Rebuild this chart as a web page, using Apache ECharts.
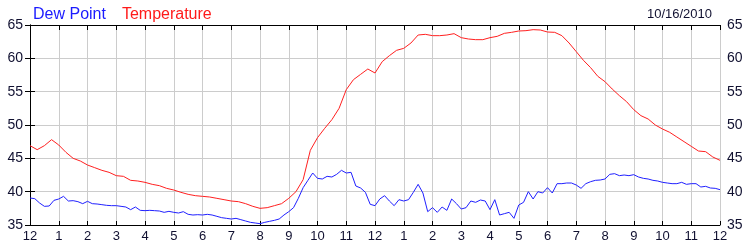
<!DOCTYPE html>
<html>
<head>
<meta charset="utf-8">
<script src="https://cdn.jsdelivr.net/npm/echarts@6/dist/echarts.min.js"></script>
<style>html,body{margin:0;padding:0;background:#fff}#c{width:750px;height:250px}</style>
</head>
<body>
<div id="c"></div>
<script>
// x axis tick labels (hours 0..24)
const hourLabels = ['12','1','2','3','4','5','6','7','8','9','10','11','12','1','2','3','4','5','6','7','8','9','10','11','12'];
const yTicks = [35, 40, 45, 50, 55, 60, 65];
// Temperature, one reading every 15 minutes from midnight
const tempStepMin = 15;
const temperature = [
 46.9,46.3,46.9,47.8,47.0,45.9,45.0,44.6,44.0,43.6,43.2,42.9,
 42.4,42.3,41.7,41.6,41.4,41.1,40.9,40.5,40.25,39.9,39.6,39.4,
 39.3,39.2,39.0,38.8,38.6,38.5,38.2,37.8,37.5,37.6,37.9,38.2,
 39.0,40.0,41.8,46.2,48.1,49.5,50.8,52.5,55.3,56.8,57.6,58.4,
 57.8,59.5,60.4,61.2,61.5,62.3,63.5,63.6,63.4,63.4,63.5,63.7,
 63.1,62.9,62.8,62.8,63.1,63.3,63.75,63.9,64.1,64.15,64.3,64.25,
 63.95,63.9,63.4,62.3,61.0,59.7,58.6,57.3,56.5,55.4,54.4,53.5,
 52.3,51.4,50.9,50.0,49.4,48.9,48.2,47.5,46.8,46.1,46.0,45.2,
 44.7
];
// Dew point, one reading every 10 minutes from midnight
const dewStepMin = 10;
const dewPoint = [
 39.05,38.95,38.3,37.8,37.85,38.7,
 38.9,39.3,38.6,38.65,38.5,38.2,
 38.55,38.2,38.15,38.05,37.95,37.9,
 37.9,37.8,37.7,37.3,37.7,37.2,
 37.15,37.2,37.15,37.1,36.9,37.05,
 36.9,36.8,37.0,36.6,36.5,36.55,
 36.5,36.6,36.5,36.3,36.1,36.0,
 35.9,36.0,35.8,35.6,35.4,35.3,
 35.2,35.4,35.55,35.7,35.9,36.5,
 37.0,37.6,39.0,40.6,41.7,42.8,
 42.0,41.9,42.3,42.2,42.6,43.2,
 42.8,42.9,40.85,40.55,39.9,38.1,
 37.9,38.9,39.4,38.6,37.9,38.8,
 38.6,38.8,39.9,41.1,39.8,37.0,
 37.6,36.9,37.7,37.2,38.9,38.2,
 37.4,37.6,38.6,38.4,38.75,38.6,
 37.3,38.8,36.5,36.7,36.9,36.0,
 38.0,38.4,40.0,38.9,40.0,39.8,
 40.6,39.8,41.2,41.2,41.3,41.3,
 41.0,40.5,41.2,41.5,41.7,41.75,
 41.9,42.6,42.7,42.4,42.5,42.4,
 42.55,42.2,42.0,41.9,41.7,41.6,
 41.4,41.3,41.2,41.2,41.4,41.1,
 41.2,41.2,40.7,40.8,40.55,40.5,
 40.3
];
const titleDew = 'Dew Point';
const titleTemp = 'Temperature';
const dateText = '10/16/2010';

const FONT = 'Liberation Sans';
const chart = echarts.init(document.getElementById('c'), null, {renderer: 'canvas'});
const toPairs = (arr, step) => arr.map((v, i) => [i * step / 60, v]);
const axisLineStyle = {show: true, lineStyle: {color: '#000', width: 1}};
chart.setOption({
  animation: false,
  backgroundColor: '#fff',
  title: [
    {text: '{a|' + titleDew + '}{b|' + titleTemp + '}', left: 28, top: 2,
     textStyle: {fontWeight: 'normal', rich: {
       a: {color: '#1a1aff', fontSize: 16, fontWeight: 'normal', fontFamily: FONT, padding: [0, 16, 0, 0]},
       b: {color: '#ff1a1a', fontSize: 16, fontWeight: 'normal', fontFamily: FONT}}}},
    {text: dateText, right: 33, top: 3, textStyle: {color: '#101030', fontSize: 13, fontWeight: 'normal', fontFamily: FONT}}
  ],
  grid: {left: 30, right: 30, top: 25, bottom: 25, containLabel: false},
  xAxis: [
    {type: 'value', min: 0, max: 24, interval: 1, position: 'bottom',
     axisLine: axisLineStyle,
     axisTick: {show: true, inside: true, length: 4, lineStyle: {color: '#000'}},
     axisLabel: {show: true, margin: 5, color: '#101030', fontSize: 13, fontFamily: FONT,
       formatter: v => hourLabels[Math.round(v)], showMinLabel: true, showMaxLabel: true},
     splitLine: {show: true, lineStyle: {color: '#cccccc', width: 1}}},
    {type: 'value', min: 0, max: 24, interval: 1, position: 'top',
     axisLine: axisLineStyle,
     axisTick: {show: true, inside: true, length: 5, lineStyle: {color: '#000'}},
     axisLabel: {show: false}, splitLine: {show: false}}
  ],
  yAxis: [
    {type: 'value', min: yTicks[0], max: yTicks[yTicks.length - 1], interval: 5, position: 'left',
     axisLine: axisLineStyle,
     axisTick: {show: true, inside: true, length: 5, lineStyle: {color: '#000'}},
     axisLabel: {margin: 7, color: '#101030', fontSize: 14, fontFamily: FONT},
     splitLine: {show: true, lineStyle: {color: '#cccccc', width: 1}}},
    {type: 'value', min: yTicks[0], max: yTicks[yTicks.length - 1], interval: 5, position: 'right',
     axisLine: axisLineStyle,
     axisTick: {show: true, inside: true, length: 5, lineStyle: {color: '#000'}},
     axisLabel: {margin: 7, color: '#101030', fontSize: 14, fontFamily: FONT},
     splitLine: {show: false}}
  ],
  series: [
    {name: titleTemp, type: 'line', xAxisIndex: 0, yAxisIndex: 0, showSymbol: false,
     data: toPairs(temperature, tempStepMin), lineStyle: {color: '#ff2020', width: 1}, z: 3},
    {name: titleDew, type: 'line', xAxisIndex: 0, yAxisIndex: 0, showSymbol: false,
     data: toPairs(dewPoint, dewStepMin), lineStyle: {color: '#2020ff', width: 1}, z: 4}
  ]
});
</script>
</body>
</html>
